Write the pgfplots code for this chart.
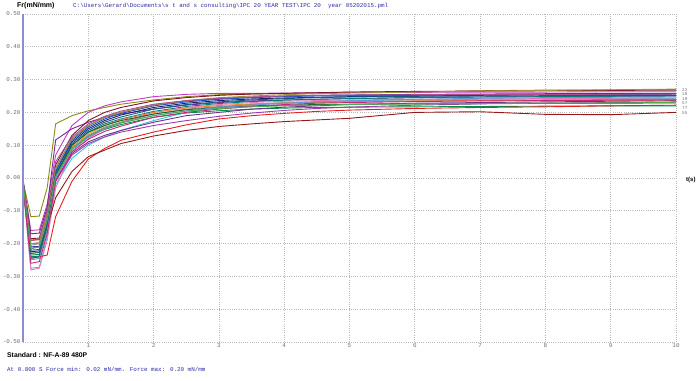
\documentclass[border=0pt]{standalone}
\usepackage{fontspec}
\setmainfont{Liberation Sans}
\newfontfamily\monofont{Liberation Mono}
\usepackage{pgfplots}
\usepackage{pgfplotstable}
\pgfplotsset{compat=1.18}
\definecolor{txtblue}{RGB}{45,45,165}
\definecolor{tickgray}{RGB}{110,110,120}
\definecolor{axlav}{RGB}{140,140,210}
\definecolor{gridgray}{RGB}{185,185,185}
\definecolor{k1}{RGB}{140,140,20}
\definecolor{k2}{RGB}{195,60,195}
\definecolor{k3}{RGB}{120,40,150}
\definecolor{k4}{RGB}{130,20,40}
\definecolor{k5}{RGB}{40,60,175}
\definecolor{k6}{RGB}{30,30,110}
\definecolor{k7}{RGB}{0,125,125}
\definecolor{k8}{RGB}{0,145,70}
\definecolor{k9}{RGB}{60,195,220}
\definecolor{k10}{RGB}{235,120,185}
\definecolor{k11}{RGB}{235,30,30}
\definecolor{k12}{RGB}{150,25,25}
\definecolor{k13}{RGB}{160,60,175}
\definecolor{k14}{RGB}{110,50,140}
\definecolor{k15}{RGB}{140,140,140}
\definecolor{k16}{RGB}{240,130,60}
\definecolor{k17}{RGB}{30,80,200}
\definecolor{k18}{RGB}{20,100,40}
\definecolor{k19}{RGB}{100,150,220}
\definecolor{k20}{RGB}{165,145,60}
\definecolor{k21}{RGB}{170,80,140}
\definecolor{k22}{RGB}{20,90,130}
\definecolor{k23}{RGB}{200,40,120}
\definecolor{k24}{RGB}{80,170,80}
\pgfplotstableread{
x    c1     c2     c3     c4     c5     c6     c7     c8     c9     c10    c11    c12    c13    c14    c15    c16    c17    c18    c19    c20    c21    c22    c23    c24
0    -0.010 -0.005 -0.008 -0.010 -0.012 -0.015 -0.020 -0.018 -0.025 -0.020 -0.020 -0.015 -0.012 -0.015 -0.010 -0.015 -0.012 -0.018 -0.020 -0.012 -0.010 -0.016 -0.020 -0.014
0.12 -0.118 -0.160 -0.170 -0.185 -0.210 -0.225 -0.240 -0.235 -0.275 -0.280 -0.245 -0.190 -0.200 -0.215 -0.205 -0.230 -0.220 -0.245 -0.250 -0.200 -0.190 -0.230 -0.260 -0.215
0.25 -0.116 -0.158 -0.168 -0.183 -0.208 -0.222 -0.238 -0.233 -0.272 -0.275 -0.240 -0.188 -0.198 -0.210 -0.200 -0.226 -0.218 -0.240 -0.245 -0.198 -0.186 -0.227 -0.255 -0.210
0.37 -0.030 -0.080 -0.090 -0.100 -0.120 -0.140 -0.150 -0.140 -0.180 -0.190 -0.235 -0.150 -0.120 -0.130 -0.120 -0.140 -0.130 -0.150 -0.160 -0.110 -0.100 -0.140 -0.170 -0.130
0.5  0.165  0.070  0.116  0.040  0.030  0.020  0.010  0.015  -0.020 -0.030 -0.118 -0.060 -0.010 -0.005 0.000  0.000  0.020  0.005  0.000  0.030  0.050  0.012  -0.010 0.005
0.75 0.190  0.160  0.150  0.130  0.120  0.110  0.100  0.090  0.060  0.080  -0.010 0.020  0.070  0.075  0.090  0.095  0.115  0.100  0.085  0.120  0.125  0.105  0.080  0.090
1    0.205  0.200  0.170  0.175  0.160  0.150  0.140  0.125  0.100  0.120  0.058  0.065  0.105  0.110  0.130  0.135  0.155  0.140  0.125  0.160  0.165  0.145  0.118  0.128
1.25 0.215  0.220  0.185  0.200  0.185  0.175  0.165  0.148  0.125  0.150  0.090  0.085  0.125  0.130  0.155  0.160  0.180  0.160  0.150  0.185  0.188  0.170  0.142  0.152
1.5  0.225  0.232  0.195  0.215  0.200  0.192  0.180  0.163  0.145  0.170  0.115  0.105  0.140  0.145  0.170  0.178  0.197  0.175  0.168  0.200  0.204  0.186  0.158  0.168
2    0.238  0.248  0.210  0.235  0.222  0.215  0.203  0.185  0.175  0.200  0.140  0.128  0.160  0.170  0.195  0.200  0.220  0.195  0.190  0.222  0.225  0.210  0.185  0.190
2.5  0.248  0.255  0.222  0.245  0.235  0.228  0.218  0.198  0.200  0.215  0.162  0.145  0.175  0.190  0.210  0.213  0.232  0.208  0.205  0.236  0.236  0.224  0.200  0.204
3    0.254  0.258  0.230  0.252  0.242  0.236  0.227  0.205  0.215  0.224  0.180  0.157  0.188  0.200  0.218  0.221  0.240  0.215  0.215  0.245  0.243  0.232  0.210  0.212
3.5  0.256  0.258  0.235  0.256  0.246  0.241  0.233  0.210  0.225  0.230  0.190  0.165  0.198  0.210  0.224  0.226  0.245  0.220  0.222  0.250  0.247  0.238  0.218  0.217
4    0.258  0.259  0.238  0.258  0.250  0.244  0.237  0.213  0.230  0.234  0.197  0.172  0.206  0.216  0.228  0.229  0.248  0.222  0.228  0.254  0.250  0.242  0.224  0.220
4.5  0.259  0.260  0.240  0.260  0.252  0.246  0.240  0.215  0.233  0.236  0.203  0.177  0.212  0.220  0.230  0.231  0.250  0.224  0.232  0.257  0.252  0.245  0.228  0.222
5    0.262  0.260  0.242  0.262  0.253  0.248  0.242  0.216  0.236  0.238  0.207  0.182  0.216  0.224  0.232  0.233  0.251  0.225  0.235  0.259  0.253  0.247  0.230  0.224
6    0.262  0.261  0.245  0.264  0.255  0.250  0.245  0.217  0.238  0.240  0.212  0.200  0.222  0.228  0.235  0.235  0.252  0.226  0.240  0.262  0.254  0.249  0.233  0.226
7    0.266  0.262  0.247  0.265  0.256  0.252  0.247  0.218  0.240  0.241  0.215  0.202  0.226  0.230  0.237  0.236  0.254  0.227  0.243  0.265  0.254  0.250  0.235  0.227
8    0.268  0.262  0.248  0.266  0.257  0.254  0.248  0.219  0.241  0.242  0.217  0.194  0.228  0.232  0.238  0.236  0.255  0.228  0.245  0.267  0.255  0.251  0.236  0.228
9    0.268  0.263  0.249  0.267  0.258  0.255  0.249  0.220  0.242  0.243  0.220  0.193  0.230  0.234  0.239  0.237  0.256  0.228  0.246  0.269  0.255  0.252  0.237  0.229
10   0.270  0.263  0.250  0.268  0.258  0.256  0.250  0.220  0.243  0.244  0.222  0.200  0.232  0.236  0.240  0.238  0.257  0.229  0.247  0.271  0.256  0.252  0.238  0.230
}\curves
\begin{document}
\begin{tikzpicture}
\begin{axis}[name=ax, scale only axis, width=653pt, height=328pt,
  xmin=0, xmax=10, ymin=-0.5, ymax=0.5,
  axis line style={draw=none},
  tick style={draw=none},
  xtick={1,2,3,4,5,6,7,8,9,10},
  xticklabels={1,2,3,4,5,6,7,8,9,10},
  ytick={-0.5,-0.4,-0.3,-0.2,-0.1,0,0.1,0.2,0.3,0.4,0.5},
  yticklabels={-0.50,-0.40,-0.30,-0.20,-0.10,0.00,0.10,0.20,0.30,0.40,0.50},
  ticklabel style={font=\fontsize{5.9}{6}\selectfont\monofont, text=tickgray},
  xticklabel style={yshift=2pt},
  yticklabel style={xshift=1pt},
  grid=major,
  major grid style={dash pattern=on 0.8pt off 1.4pt, gridgray, line width=0.8pt},
  every axis plot/.append style={line width=0.9pt},
  clip=false]
\foreach \i in {1,...,24}{
  \edef\tmp{\noexpand\addplot[color=k\i] table[x=x,y=c\i]{\noexpand\curves};}
  \tmp
}
\draw[line width=1.6pt, axlav] (axis cs:0,-0.5) -- (axis cs:0,0.5);
\end{axis}
\node[anchor=west, inner sep=0pt, font=\fontsize{7}{8}\selectfont\bfseries] at ([shift={(-6pt,336pt)}]ax.south west) {Fr(mN/mm)};
\node[anchor=west, inner sep=0pt, font=\fontsize{5.9}{7}\selectfont\monofont, text=txtblue] at ([shift={(50pt,336pt)}]ax.south west) {C:\textbackslash Users\textbackslash Gerard\textbackslash Documents\textbackslash s t and s consulting\textbackslash IPC 20 YEAR TEST\textbackslash IPC 20\ \ year 05202015.pml};
\node[anchor=west, inner sep=0pt, font=\fontsize{6.8}{8}\selectfont\bfseries] at ([shift={(-16pt,-13pt)}]ax.south west) {Standard : NF-A-89 480P};
\node[anchor=west, inner sep=0pt, font=\fontsize{5.9}{7}\selectfont\monofont, text=txtblue] at ([shift={(-16pt,-27pt)}]ax.south west) {At 0.800 S Force min: 0.02 mN/mm. Force max: 0.20 mN/mm};
\node[anchor=west, inner sep=0pt, font=\fontsize{6}{7}\selectfont\bfseries] at ([shift={(663pt,162pt)}]ax.south west) {t(s)};
\foreach \lab/\yy in {22/90,10/94.5,19/99,57/103.5,77/108.5,55/113}{
  \node[anchor=west, inner sep=0pt, font=\fontsize{4.3}{5}\selectfont\monofont, text=tickgray] at ([shift={(659pt,{342pt-\yy pt})}]ax.south west) {\lab};
}
\pgfresetboundingbox
\path ([shift={(-23pt,-38pt)}]ax.south west) rectangle ([shift={(24pt,14pt)}]ax.north east);
\end{tikzpicture}
\end{document}
